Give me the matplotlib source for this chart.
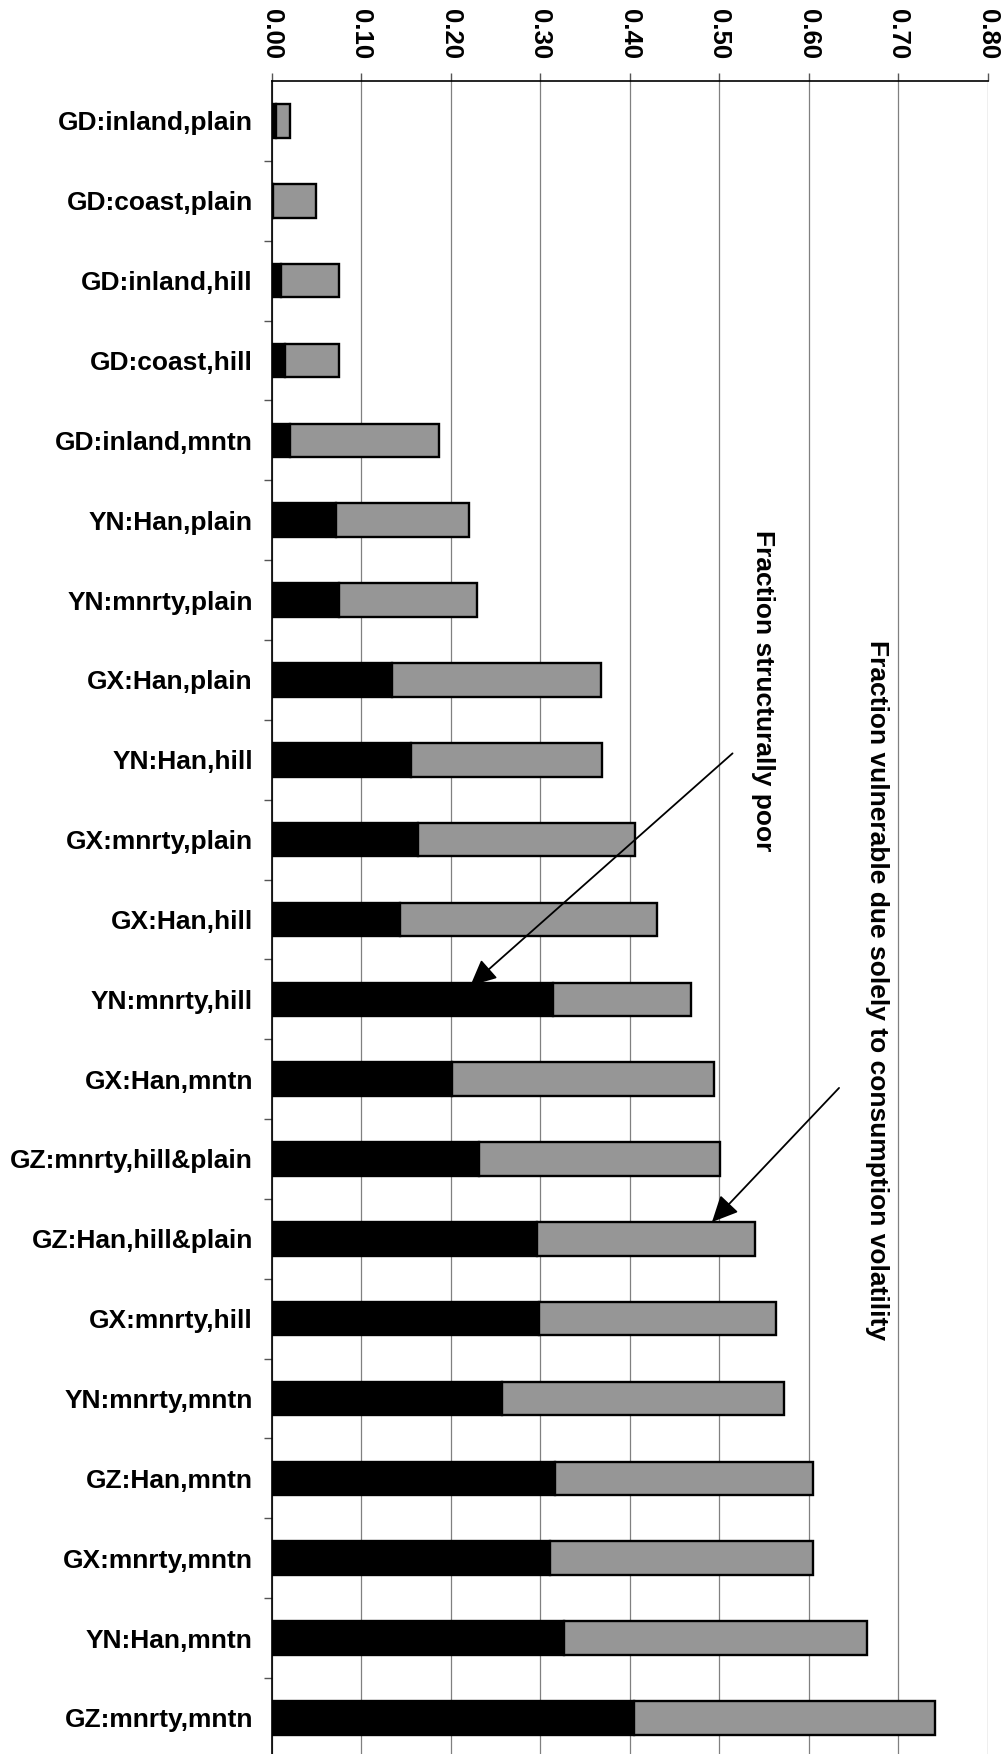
import matplotlib
matplotlib.use("Agg")
import matplotlib.pyplot as plt
import numpy as np

categories = [
    "GD:inland,plain", "GD:coast,plain", "GD:inland,hill", "GD:coast,hill",
    "GD:inland,mntn", "YN:Han,plain", "YN:mnrty,plain", "GX:Han,plain",
    "YN:Han,hill", "GX:mnrty,plain", "GX:Han,hill", "YN:mnrty,hill",
    "GX:Han,mntn", "GZ:mnrty,hill&plain", "GZ:Han,hill&plain", "GX:mnrty,hill",
    "YN:mnrty,mntn", "GZ:Han,mntn", "GX:mnrty,mntn", "YN:Han,mntn",
    "GZ:mnrty,mntn",
]

# fraction structurally poor (black segment)
structural = [
    0.005, 0.001, 0.010, 0.015, 0.021, 0.072, 0.075, 0.134, 0.156, 0.163,
    0.143, 0.314, 0.202, 0.232, 0.296, 0.299, 0.257, 0.317, 0.311, 0.327,
    0.405,
]
# fraction vulnerable due solely to consumption volatility (grey segment)
volatility = [
    0.015, 0.048, 0.065, 0.060, 0.166, 0.149, 0.155, 0.234, 0.213, 0.243,
    0.288, 0.155, 0.292, 0.269, 0.244, 0.265, 0.316, 0.288, 0.294, 0.338,
    0.336,
]

x_ticks = [0.0, 0.1, 0.2, 0.3, 0.4, 0.5, 0.6, 0.7, 0.8]

plt.rcParams["font.family"] = ["Liberation Sans", "DejaVu Sans"]
plt.rcParams["font.weight"] = "bold"

fig = plt.figure(figsize=(10.05, 17.54), dpi=100)
ax = fig.add_axes([0.2703, -0.0022, 0.7124, 0.956])

y = np.arange(len(categories))
bar_h = 0.42
ax.barh(y, structural, height=bar_h, color="black", edgecolor="black",
        linewidth=1.7, zorder=3)
ax.barh(y, volatility, left=structural, height=bar_h, color="#969696",
        edgecolor="black", linewidth=1.7, zorder=3)

ax.set_xlim(0, 0.8)
ax.set_ylim(len(categories) - 0.5, -0.5)

ax.xaxis.tick_top()
ax.set_xticks(x_ticks)
ax.set_xticklabels([f"{v:.2f}" for v in x_ticks], rotation=-90,
                   fontsize=18.5, fontweight="bold", ha="center", va="bottom")
ax.tick_params(axis="x", which="major", length=6, width=1, pad=10,
               color="#555555")
ax.grid(axis="x", color="#808080", linewidth=0.9, zorder=0)

ax.set_yticks(y)
ax.set_yticklabels(categories, fontsize=19, fontweight="bold")
ax.tick_params(axis="y", which="major", length=0, pad=13.5)
ax.set_yticks(np.arange(len(categories) - 1) + 0.5, minor=True)
ax.tick_params(axis="y", which="minor", length=6, width=1, color="#555555")

for side in ("right", "bottom"):
    ax.spines[side].set_visible(False)
ax.spines["left"].set_linewidth(1.2)
ax.spines["top"].set_linewidth(1.2)

ax.text(0.549, 7.13, "Fraction structurally poor", rotation=-90,
        ha="center", va="center", fontsize=19, fontweight="bold")
ax.text(0.676, 10.88, "Fraction vulnerable due solely to consumption volatility",
        rotation=-90, ha="center", va="center", fontsize=19, fontweight="bold")

arrow = dict(arrowstyle="-|>,head_length=0.8,head_width=0.38", color="black",
             lw=1.3, shrinkA=0, shrinkB=0, mutation_scale=20)
ax.annotate("", xy=(0.222, 10.83), xytext=(0.515, 7.92), arrowprops=arrow,
            zorder=5)
ax.annotate("", xy=(0.492, 13.79), xytext=(0.634, 12.11), arrowprops=arrow,
            zorder=5)

fig.savefig("out.png", dpi=100)
